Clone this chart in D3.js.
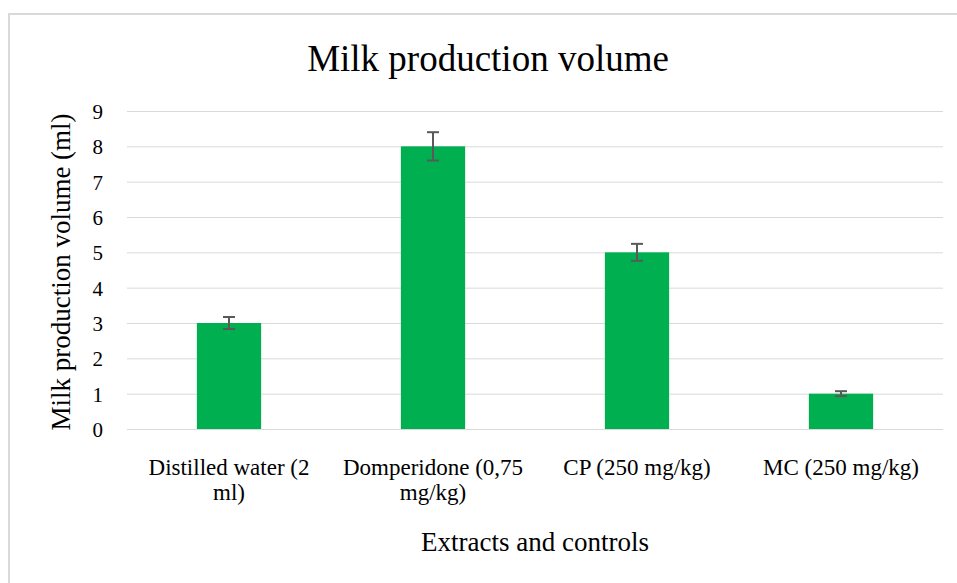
<!DOCTYPE html>
<html lang="en">
<head>
<meta charset="UTF-8">
<title>Milk production volume</title>
<script src="https://d3js.org/d3.v7.min.js"></script>
<style>
  body { margin: 0; background: #fff; }
</style>
</head>
<body>
<svg width="957" height="583"></svg>
<script>
// data
const categories = [["Distilled water (2", "ml)"], ["Domperidone (0,75", "mg/kg)"], ["CP (250 mg/kg)"], ["MC (250 mg/kg)"]];
const values = [3, 8, 5, 1];
const errors = [0.17, 0.4, 0.24, 0.07];
const yTicks = [0, 1, 2, 3, 4, 5, 6, 7, 8, 9];

const serif = "'Liberation Serif', 'Times New Roman', serif";
const svg = d3.select("svg");
const margin = {top: 111, right: 14, bottom: 154, left: 127};
const width = 957 - margin.left - margin.right,
      height = 583 - margin.top - margin.bottom;

// outer frame
svg.append("rect")
    .attr("x", 9).attr("y", 14)
    .attr("width", 1000).attr("height", 1000)
    .attr("fill", "none")
    .attr("stroke", "#d9d9d9")
    .attr("stroke-width", 2);

const g = svg.append("g").attr("transform", `translate(${margin.left},${margin.top})`);

const x = d3.scaleBand()
    .domain(d3.range(categories.length))
    .range([0, width])
    .paddingInner(0.685)
    .paddingOuter(0.3425);

const y = d3.scaleLinear().domain([0, 9]).range([height, 0]);

// gridlines + y labels
const yAxis = g.append("g")
    .call(d3.axisLeft(y).tickValues(yTicks).tickSize(-width).tickFormat(d3.format("d")));
yAxis.attr("font-family", serif).attr("font-size", 21);
yAxis.select(".domain").remove();
yAxis.selectAll(".tick line").attr("stroke", "#d9d9d9").attr("stroke-width", 1);
yAxis.selectAll(".tick text").attr("x", -24).attr("dy", "0.35em").attr("fill", "#000");

// bars
g.selectAll(".bar")
    .data(values)
    .join("rect")
    .attr("class", "bar")
    .attr("x", (d, i) => x(i))
    .attr("y", d => y(d))
    .attr("width", x.bandwidth())
    .attr("height", d => height - y(d))
    .attr("fill", "#00b050");

// error bars
const eb = g.selectAll(".err")
    .data(values)
    .join("g")
    .attr("class", "err")
    .attr("stroke", "#595959")
    .attr("stroke-width", 2);
eb.append("line")
    .attr("x1", (d, i) => x(i) + x.bandwidth() / 2)
    .attr("x2", (d, i) => x(i) + x.bandwidth() / 2)
    .attr("y1", (d, i) => y(d + errors[i]))
    .attr("y2", (d, i) => y(d - errors[i]));
eb.each(function(d, i) {
  const cx = x(i) + x.bandwidth() / 2;
  [d + errors[i], d - errors[i]].forEach(v => {
    d3.select(this).append("line")
      .attr("x1", cx - 6).attr("x2", cx + 6)
      .attr("y1", y(v)).attr("y2", y(v));
  });
});

// x category labels (two lines where the original wraps)
const xl = g.append("g").attr("transform", `translate(0,${height})`);
xl.selectAll("text")
    .data(categories)
    .join("text")
    .attr("text-anchor", "middle")
    .attr("font-family", serif)
    .attr("font-size", 23)
    .attr("transform", (d, i) => `translate(${x(i) + x.bandwidth() / 2},46)`)
    .selectAll("tspan")
    .data(d => d)
    .join("tspan")
    .attr("x", 0)
    .attr("dy", (d, j) => j === 0 ? 0 : 25)
    .text(d => d);

// titles
svg.append("text")
    .attr("x", 488).attr("y", 71)
    .attr("text-anchor", "middle")
    .attr("font-family", serif)
    .attr("font-size", 37)
    .text("Milk production volume");

svg.append("text")
    .attr("x", 535).attr("y", 551)
    .attr("text-anchor", "middle")
    .attr("font-family", serif)
    .attr("font-size", 27)
    .text("Extracts and controls");

svg.append("text")
    .attr("transform", "translate(70,272) rotate(-90)")
    .attr("text-anchor", "middle")
    .attr("font-family", serif)
    .attr("font-size", 27)
    .text("Milk production volume (ml)");
</script>
</body>
</html>
